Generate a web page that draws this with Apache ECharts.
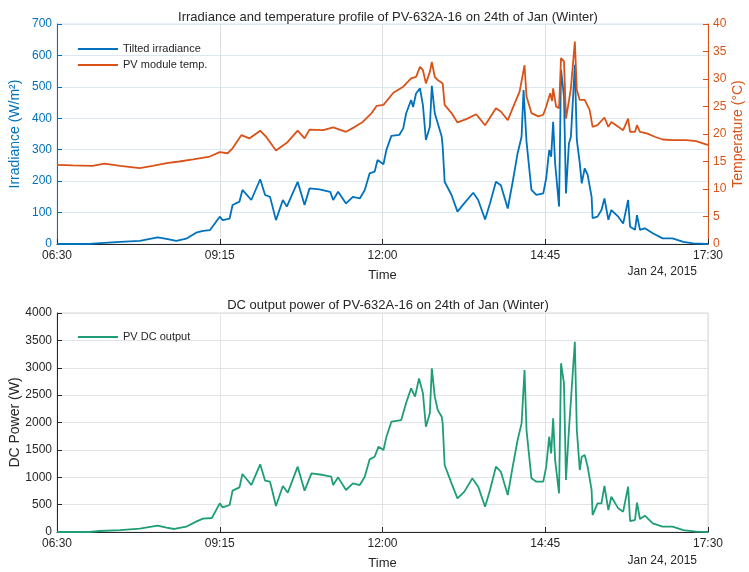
<!DOCTYPE html>
<html>
<head>
<meta charset="utf-8">
<script src="https://cdn.jsdelivr.net/npm/echarts@6/dist/echarts.min.js"></script>
<style>
  html, body { margin: 0; padding: 0; background: #fff; }
  #chart { width: 749px; height: 572px; }
</style>
</head>
<body>
<div id="chart"></div>
<script>
// Tilted irradiance (W/m^2)
const irrTimes = ['06:30','07:03','07:10','07:34','07:54','08:12','08:21','08:31','08:41','08:51','08:58','09:05','09:15','09:18','09:25','09:28','09:35','09:38','09:47','09:56','10:01','10:06','10:12','10:19','10:23','10:34','10:41','10:46','10:56','11:07','11:10','11:15','11:23','11:30','11:37','11:42','11:47','11:52','11:55','12:01','12:04','12:09','12:17','12:21','12:24','12:29','12:31','12:34','12:38','12:41','12:44','12:48','12:50','12:53','12:56','13:00','13:01','13:03','13:10','13:16','13:23','13:32','13:37','13:44','13:49','13:55','14:00','14:07','14:12','14:17','14:21','14:23','14:26','14:31','14:36','14:43','14:46','14:49','14:51','14:53','14:55','14:59','15:01','15:04','15:06','15:09','15:11','15:15','15:17','15:20','15:22','15:25','15:28','15:32','15:33','15:38','15:42','15:45','15:49','15:52','15:59','16:04','16:09','16:11','16:16','16:18','16:21','16:26','16:34','16:44','16:54','17:05','17:15','17:28','17:30'];
const irrValues = [0,0,2,7,10,21,16,10,17,36,42,44,87,76,81,124,135,172,140,206,156,150,76,140,119,198,124,177,174,166,140,166,129,150,145,172,225,230,267,254,300,344,347,368,416,458,436,479,495,441,331,373,503,416,384,342,310,198,156,103,130,163,140,78,130,198,187,113,198,289,341,490,326,172,156,161,210,299,278,389,257,119,554,469,161,320,341,570,331,257,193,241,220,150,82,87,108,145,77,108,87,65,140,55,45,92,45,50,34,18,18,7,2,0,0];

// PV module temperature (°C)
const tempTimes = ['06:30','06:46','07:06','07:18','07:34','07:54','08:07','08:21','08:34','08:48','09:05','09:15','09:23','09:28','09:37','09:45','09:56','10:02','10:12','10:23','10:34','10:41','10:46','11:00','11:10','11:23','11:32','11:40','11:49','11:54','12:01','12:11','12:21','12:29','12:34','12:38','12:41','12:44','12:48','12:50','12:53','12:56','13:01','13:03','13:10','13:16','13:25','13:35','13:44','13:55','14:00','14:07','14:12','14:19','14:24','14:26','14:31','14:38','14:43','14:46','14:50','14:52','14:53','14:56','14:59','15:01','15:04','15:06','15:09','15:11','15:15','15:17','15:20','15:25','15:30','15:33','15:38','15:45','15:49','15:52','15:59','16:04','16:09','16:11','16:16','16:18','16:21','16:28','16:36','16:44','16:54','17:08','17:18','17:28','17:30'];
const tempValues = [14.4,14.3,14.2,14.6,14.2,13.8,14.2,14.7,15.0,15.4,15.9,16.7,16.5,17.4,19.8,19.2,20.6,19.5,17.0,18.4,20.6,19.2,20.8,20.7,21.2,20.4,21.3,22.2,23.8,25.1,25.3,27.5,28.6,30.1,30.4,32.2,31.6,29.2,31.3,33.1,30.4,29.8,29.2,25.3,23.8,22.1,22.7,23.6,21.6,24.7,24.1,22.5,24.7,27.7,32.5,26.8,23.8,23.2,23.5,25.0,27.4,26.0,28.3,25.0,24.7,33.8,33.2,22.8,26.0,28.3,36.8,28.0,26.2,26.2,24.4,21.3,21.6,23.0,21.3,22.2,21.3,20.7,22.8,20.4,20.4,21.6,20.4,20.1,19.5,19.0,18.9,18.9,18.7,18.1,18.0];

// PV DC output power (W)
const dcTimes = ['06:30','07:03','07:13','07:34','07:54','08:12','08:21','08:29','08:41','08:51','08:58','09:07','09:15','09:18','09:25','09:28','09:35','09:38','09:47','09:56','10:01','10:06','10:12','10:19','10:24','10:34','10:41','10:48','11:00','11:08','11:10','11:15','11:23','11:30','11:37','11:42','11:47','11:52','11:56','12:01','12:04','12:09','12:19','12:24','12:29','12:33','12:37','12:39','12:41','12:44','12:48','12:50','12:53','12:56','13:00','13:01','13:03','13:10','13:16','13:23','13:31','13:37','13:44','13:49','13:55','14:00','14:07','14:12','14:17','14:21','14:24','14:26','14:31','14:36','14:43','14:46','14:49','14:51','14:53','14:55','14:59','15:01','15:04','15:06','15:09','15:11','15:15','15:17','15:20','15:22','15:25','15:28','15:32','15:33','15:38','15:42','15:45','15:49','15:52','15:59','16:04','16:09','16:11','16:16','16:18','16:21','16:26','16:34','16:44','16:54','17:05','17:18','17:30'];
const dcValues = [0,0,18,36,61,116,79,55,97,189,243,256,523,450,493,755,816,1059,858,1236,937,919,475,840,718,1193,755,1071,1041,1010,858,998,767,889,858,1010,1327,1375,1558,1497,1741,2014,2045,2361,2624,2472,2806,2825,2533,1923,2167,2989,2472,2228,2106,1984,1223,889,615,737,980,828,462,767,1193,1102,676,1193,1680,1984,2958,1862,980,919,919,1193,1741,1436,2076,1314,706,3080,2715,950,1862,1893,3475,1862,1132,1375,1406,1193,767,310,523,523,840,401,645,432,371,828,201,219,535,237,298,158,97,97,36,6,0];

// Axis ticks
const timeTicks = ['06:30','09:15','12:00','14:45','17:30'];
const irrTicks = [0,100,200,300,400,500,600,700];
const tempTicks = [0,5,10,15,20,25,30,35,40];
const dcTicks = [0,500,1000,1500,2000,2500,3000,3500,4000];

const DAY_START = 6 * 60 + 30;
const toMin = t => { const p = t.split(':').map(Number); return p[0] * 60 + p[1] - DAY_START; };
const fmtMin = v => {
  const m = Math.round(v) + DAY_START;
  const h = Math.floor(m / 60), mm = m % 60;
  return String(h).padStart(2, '0') + ':' + String(mm).padStart(2, '0');
};
const pairs = (ts, vs) => ts.map((t, i) => [toMin(t), vs[i]]);

const BLUE = '#0072BD', ORANGE = '#D95319', GREEN = '#1E9E77', INK = '#262626';
const FONT = 'Liberation Sans, Arial, Helvetica, sans-serif';
const xSpan = toMin(timeTicks[timeTicks.length - 1]) - toMin(timeTicks[0]);
const xStep = toMin(timeTicks[1]) - toMin(timeTicks[0]);

function timeAxis(gridIndex, gridColor) {
  return {
    type: 'value', gridIndex, min: 0, max: xSpan, interval: xStep,
    name: 'Time', nameLocation: 'middle', nameGap: 25, nameMoveOverlap: false,
    nameTextStyle: { color: INK, fontSize: 13, fontFamily: FONT },
    axisLine: { onZero: false, lineStyle: { color: INK, width: 1 } },
    axisTick: { inside: true, length: 5, lineStyle: { color: INK } },
    axisLabel: { color: INK, fontSize: 12, fontFamily: FONT, margin: 6, formatter: fmtMin, showMinLabel: true, showMaxLabel: true },
    splitLine: { show: true, lineStyle: { color: gridColor, width: 1 } }
  };
}

function valueAxis(gridIndex, ticks, color, name, position, nameGap, gridColor) {
  return {
    type: 'value', gridIndex, position,
    min: ticks[0], max: ticks[ticks.length - 1], interval: ticks[1] - ticks[0],
    name, nameLocation: 'middle', nameGap, nameRotate: 90, nameMoveOverlap: false,
    nameTextStyle: { color, fontSize: 14, fontFamily: FONT },
    axisLine: { show: true, onZero: false, lineStyle: { color, width: 1 } },
    axisTick: { show: true, inside: true, length: 5, lineStyle: { color } },
    axisLabel: { color, fontSize: 12, fontFamily: FONT, margin: 5, formatter: v => String(v) },
    splitLine: gridColor ? { show: true, lineStyle: { color: gridColor, width: 1 } } : { show: false }
  };
}

const chart = echarts.init(document.getElementById('chart'), null, { renderer: 'canvas' });
chart.setOption({
  backgroundColor: '#ffffff',
  animation: false,
  textStyle: { fontFamily: FONT },
  title: [
    { text: 'Irradiance and temperature profile of PV-632A-16 on 24th of Jan (Winter)', left: 383, top: 6, textAlign: 'center',
      textStyle: { color: INK, fontSize: 13, fontWeight: 'normal', fontFamily: FONT } },
    { text: 'DC output power of PV-632A-16 on 24th of Jan (Winter)', left: 383, top: 294, textAlign: 'center',
      textStyle: { color: INK, fontSize: 13, fontWeight: 'normal', fontFamily: FONT } }
  ],
  legend: [
    { data: ['Tilted irradiance', 'PV module temp.'], orient: 'vertical', left: 73, top: 38,
      icon: 'rect', itemWidth: 40, itemHeight: 2, itemGap: 4,
      textStyle: { color: INK, fontSize: 11, fontFamily: FONT, lineHeight: 12 } },
    { data: ['PV DC output'], orient: 'vertical', left: 73, top: 326,
      icon: 'rect', itemWidth: 40, itemHeight: 2,
      textStyle: { color: INK, fontSize: 11, fontFamily: FONT, lineHeight: 12 } }
  ],
  grid: [
    { left: 57, right: 41, top: 24, height: 220, show: true, borderColor: '#d4e3f0', borderWidth: 1,
      containLabel: false, outerBoundsMode: 'none' },
    { left: 57, right: 41, top: 313, height: 219, show: true, borderColor: '#d9d9d9', borderWidth: 1,
      containLabel: false, outerBoundsMode: 'none' }
  ],
  xAxis: [ timeAxis(0, '#dedede'), timeAxis(1, '#e3e3e3') ],
  yAxis: [
    valueAxis(0, irrTicks, BLUE, 'Irradiance (W/m²)', 'left', 35, '#dbe8f4'),
    valueAxis(0, tempTicks, ORANGE, 'Temperature (°C)', 'right', 23, null),
    valueAxis(1, dcTicks, INK, 'DC Power (W)', 'left', 35, '#e3e3e3')
  ],
  graphic: [
    { type: 'text', right: 52, top: 266, style: { text: 'Jan 24, 2015', fill: INK, font: '12px ' + FONT } },
    { type: 'text', right: 52, top: 555, style: { text: 'Jan 24, 2015', fill: INK, font: '12px ' + FONT } }
  ],
  series: [
    { name: 'Tilted irradiance', type: 'line', xAxisIndex: 0, yAxisIndex: 0,
      data: pairs(irrTimes, irrValues), showSymbol: false, color: BLUE,
      lineStyle: { color: BLUE, width: 1.8 } },
    { name: 'PV module temp.', type: 'line', xAxisIndex: 0, yAxisIndex: 1,
      data: pairs(tempTimes, tempValues), showSymbol: false, color: ORANGE,
      lineStyle: { color: ORANGE, width: 1.8 } },
    { name: 'PV DC output', type: 'line', xAxisIndex: 1, yAxisIndex: 2,
      data: pairs(dcTimes, dcValues), showSymbol: false, color: GREEN,
      lineStyle: { color: GREEN, width: 1.8 } }
  ]
});
</script>
</body>
</html>
